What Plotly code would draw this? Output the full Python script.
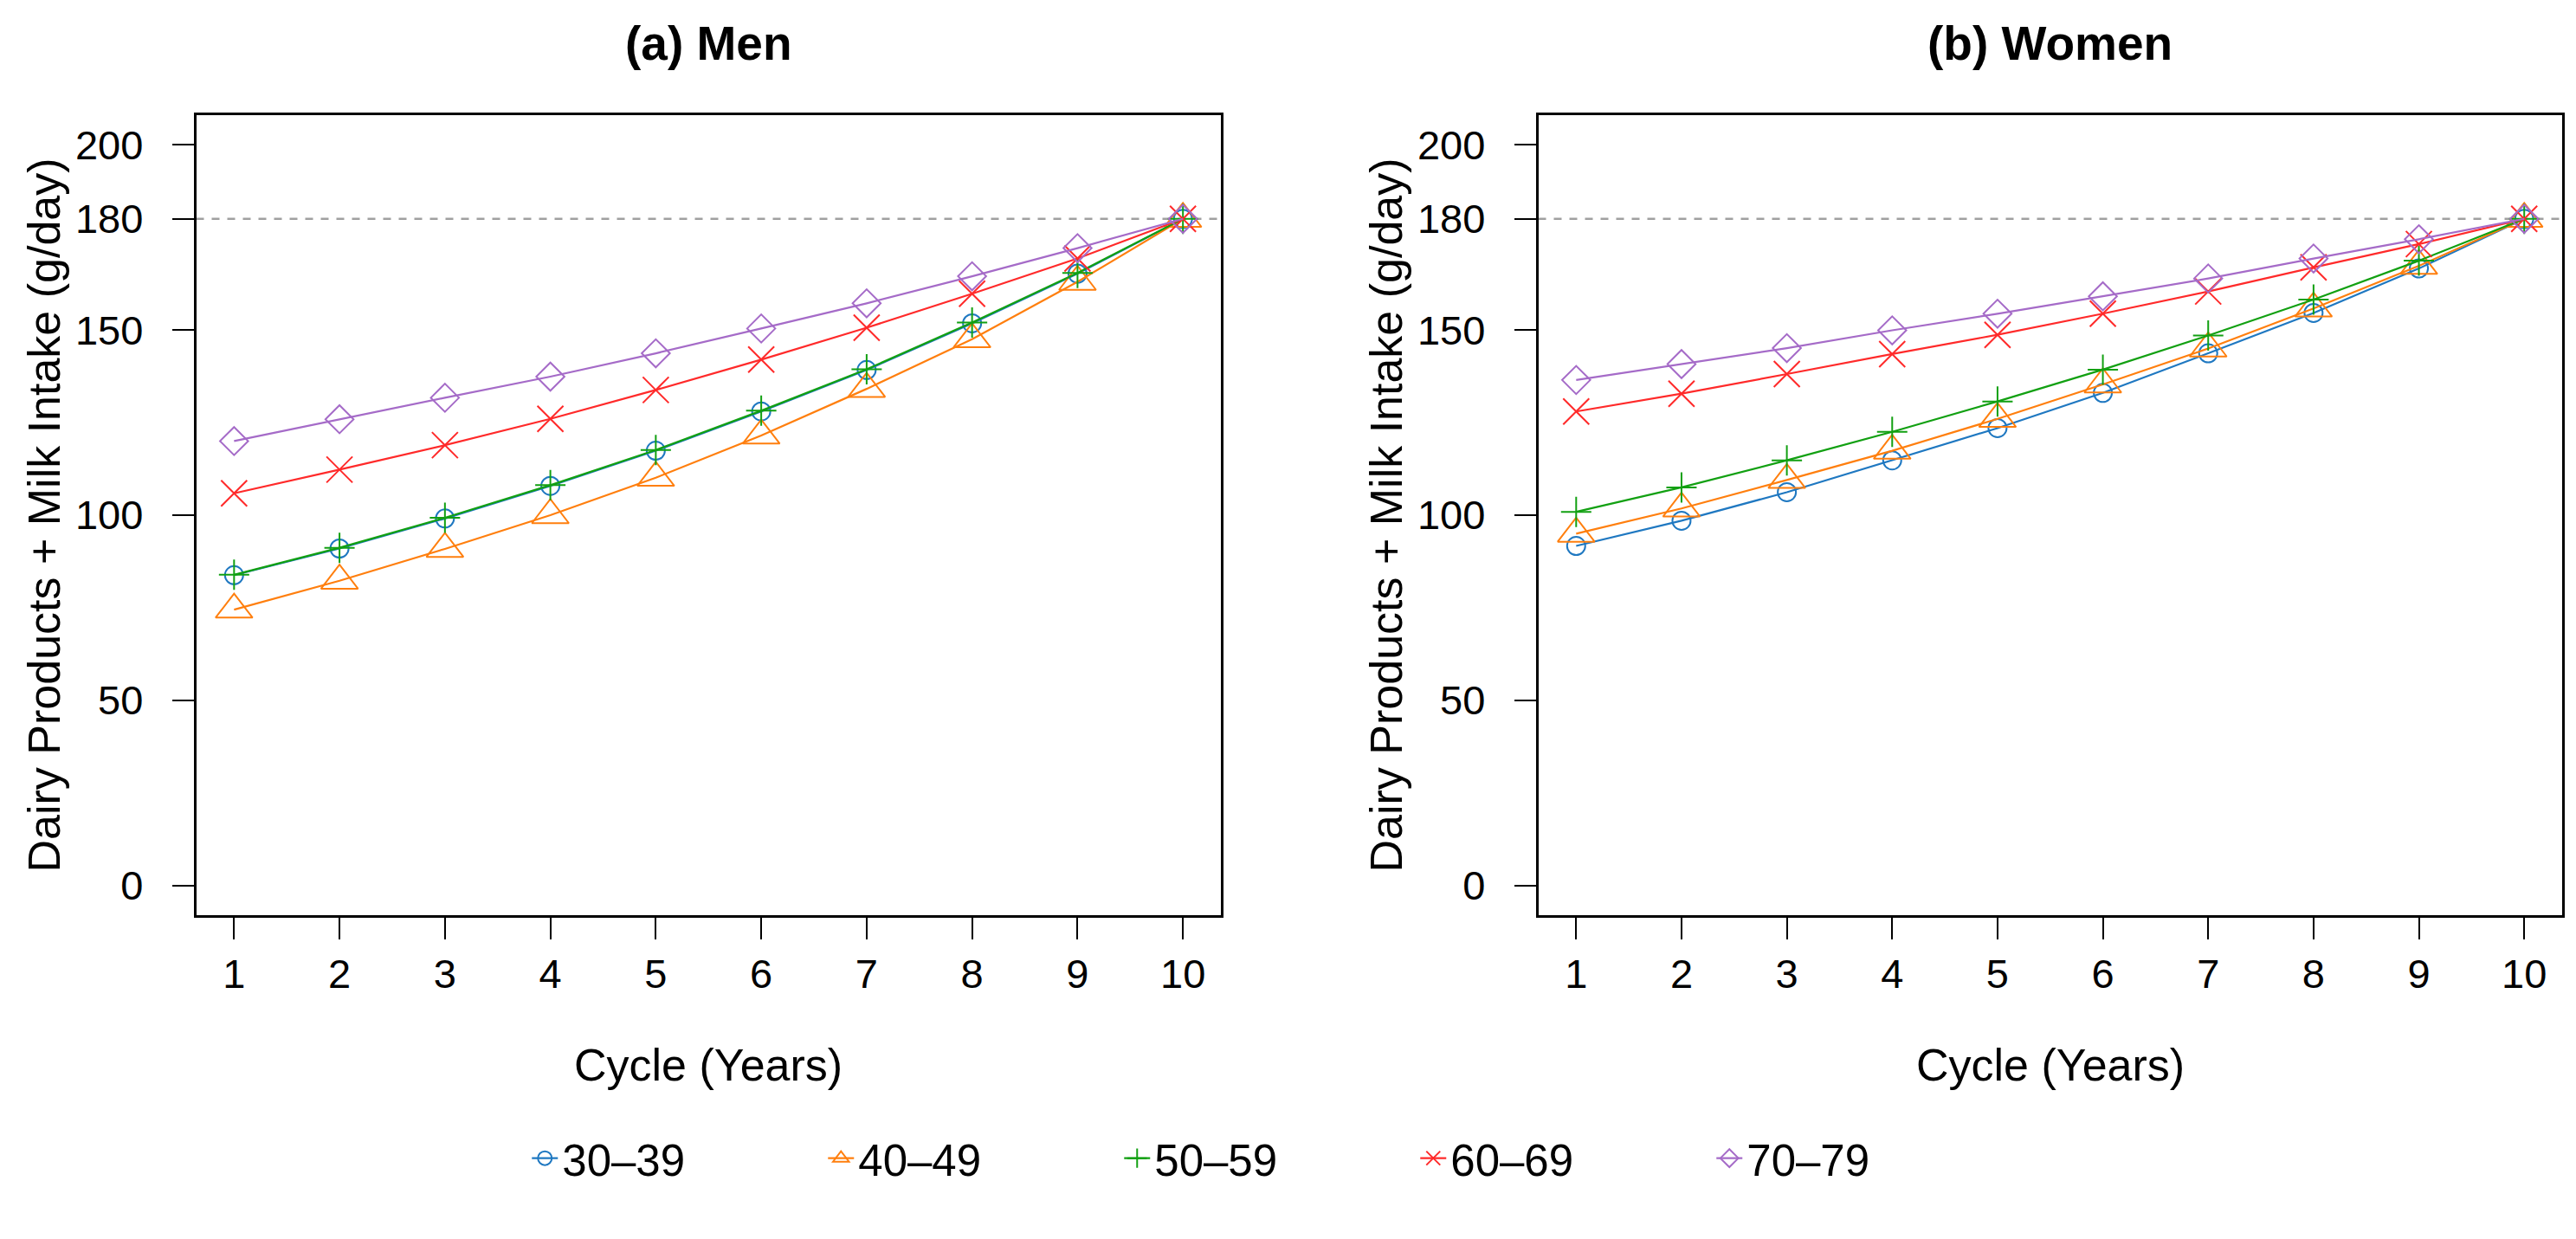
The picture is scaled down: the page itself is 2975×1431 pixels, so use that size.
import plotly.graph_objects as go

cycles = [1, 2, 3, 4, 5, 6, 7, 8, 9, 10]
groups = ["30–39", "40–49", "50–59", "60–69", "70–79"]

men_30_39 = [83.8, 91.0, 99.1, 107.9, 117.4, 128.0, 139.2, 151.8, 165.2, 180]
men_40_49 = [74.5, 82.3, 90.9, 100.0, 110.1, 121.5, 134.1, 147.5, 163.0, 180]
men_50_59 = [83.9, 91.2, 99.3, 108.1, 117.6, 128.2, 139.4, 152.0, 165.4, 180]
men_60_69 = [105.9, 112.3, 118.9, 126.0, 133.8, 142.0, 150.6, 159.8, 169.3, 180]
men_70_79 = [120.0, 125.9, 131.7, 137.4, 143.7, 150.4, 157.2, 164.5, 172.1, 180]

women_30_39 = [91.7, 98.5, 106.2, 114.8, 123.5, 133.0, 143.7, 154.6, 166.6, 180]
women_40_49 = [95.0, 101.8, 109.5, 117.4, 126.0, 135.3, 145.0, 155.8, 167.3, 180]
women_50_59 = [100.9, 107.5, 114.8, 122.5, 130.7, 139.3, 148.5, 158.2, 168.7, 180]
women_60_69 = [128.0, 132.8, 138.1, 143.5, 148.7, 154.4, 160.4, 166.9, 173.2, 180]
women_70_79 = [136.5, 140.8, 145.1, 149.9, 154.4, 159.1, 163.9, 169.3, 174.5, 180]

y_ticks = [0, 50, 100, 150, 180, 200]
reference_level = 180
panel_titles = ["<b>(a) Men</b>", "<b>(b) Women</b>"]
x_title = "Cycle (Years)"
y_title = "Dairy Products + Milk Intake (g/day)"

colors = ["#1f78c1", "#ff7f0e", "#12a012", "#ff2a2a", "#a56bc8"]
symbols = ["circle-open", "triangle-up-open", "cross-thin-open", "x-thin-open", "diamond-open"]
sizes = [21, 37, 25, 30, 25]

W, H = 2975, 1431
FONT = "Liberation Sans, Arial, sans-serif"

fig = go.Figure()
men = [men_30_39, men_40_49, men_50_59, men_60_69, men_70_79]
women = [women_30_39, women_40_49, women_50_59, women_60_69, women_70_79]

for panel, (data, xa, ya) in enumerate([(men, "x", "y"), (women, "x2", "y2")]):
    for i, g in enumerate(groups):
        fig.add_trace(go.Scatter(
            x=cycles, y=data[i], xaxis=xa, yaxis=ya,
            mode="lines+markers", name=g, legendgroup=g,
            showlegend=(panel == 0),
            line=dict(color=colors[i], width=2.2),
            marker=dict(symbol=symbols[i], size=sizes[i], color=colors[i],
                        line=dict(color=colors[i], width=2)),
        ))

left_dom = [218.5 / W, 1402 / W]
right_dom = [1768.5 / W, 2951 / W]
y_dom = [1 - 1049 / H, 1 - 125 / H]

xax = dict(range=[0.64, 10.36], tickmode="array", tickvals=cycles,
           ticks="outside", ticklen=25, tickwidth=2, tickcolor="black",
           showline=True, linecolor="black", linewidth=2.5, mirror=True,
           showgrid=False, zeroline=False, ticklabelstandoff=0,
           tickfont=dict(size=47, color="black", family=FONT))
yax = dict(range=[-8, 208], tickmode="array", tickvals=y_ticks,
           ticks="outside", ticklen=25, tickwidth=2, tickcolor="black",
           showline=True, linecolor="black", linewidth=2.5, mirror=True,
           showgrid=False, zeroline=False, ticklabelstandoff=24,
           tickfont=dict(size=47, color="black", family=FONT))

fig.update_layout(
    width=W, height=H, autosize=False,
    margin=dict(l=0, r=0, t=0, b=0),
    paper_bgcolor="white", plot_bgcolor="white",
    font=dict(family=FONT, color="black"),
    xaxis=dict(domain=left_dom, anchor="y", **xax),
    yaxis=dict(domain=y_dom, anchor="x", **yax),
    xaxis2=dict(domain=right_dom, anchor="y2", **xax),
    yaxis2=dict(domain=y_dom, anchor="x2", **yax),
    legend=dict(orientation="h", x=0.4895, xanchor="center", y=1 - 1330 / H,
                yanchor="middle", font=dict(size=51, family=FONT),
                entrywidth=297, entrywidthmode="pixels", bgcolor="rgba(0,0,0,0)"),
)

for xref, yref in [("x domain", "y"), ("x2 domain", "y2")]:
    fig.add_shape(type="line", xref=xref, yref=yref, x0=0, x1=1,
                  y0=reference_level, y1=reference_level,
                  line=dict(color="#a0a0a0", width=2.5, dash="dash"), layer="below")

annos = []
for dom, title in [(left_dom, panel_titles[0]), (right_dom, panel_titles[1])]:
    cx = (dom[0] + dom[1]) / 2
    annos.append(dict(text=title, x=cx, y=1 - 42 / H, xref="paper", yref="paper",
                      xanchor="center", yanchor="middle", showarrow=False,
                      font=dict(size=55, family=FONT, color="black")))
    annos.append(dict(text=x_title, x=cx, y=1 - 1222 / H, xref="paper", yref="paper",
                      xanchor="center", yanchor="middle", showarrow=False,
                      font=dict(size=52, family=FONT, color="black")))
    annos.append(dict(text=y_title, x=dom[0] - 176 / W, y=(y_dom[0] + y_dom[1]) / 2,
                      xref="paper", yref="paper", textangle=-90,
                      xanchor="center", yanchor="middle", showarrow=False,
                      font=dict(size=52, family=FONT, color="black")))
fig.update_layout(annotations=annos)

fig.write_html("out.html")
